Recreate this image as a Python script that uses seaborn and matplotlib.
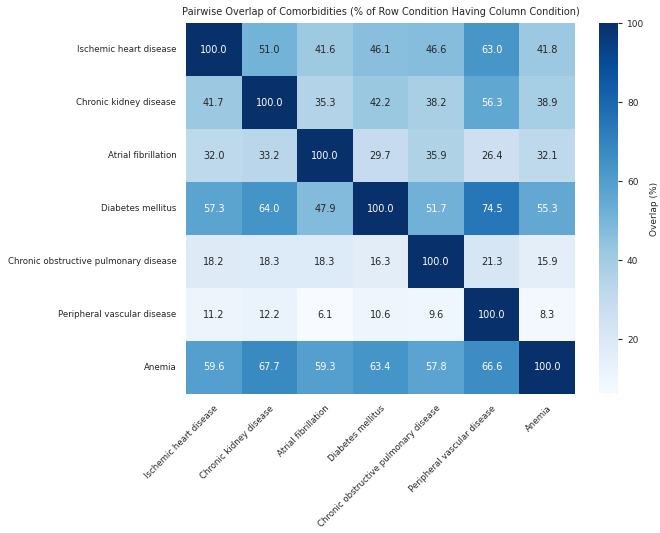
import numpy as np
import pandas as pd
import matplotlib
matplotlib.use('Agg')
import matplotlib.pyplot as plt
import seaborn as sns

conditions = ["Ischemic heart disease", "Chronic kidney disease", "Atrial fibrillation",
              "Diabetes mellitus", "Chronic obstructive pulmonary disease",
              "Peripheral vascular disease", "Anemia"]

ihd = [100.0, 51.0, 41.6, 46.1, 46.6, 63.0, 41.8]
ckd = [41.7, 100.0, 35.3, 42.2, 38.2, 56.3, 38.9]
afib = [32.0, 33.2, 100.0, 29.7, 35.9, 26.4, 32.1]
diab = [57.3, 64.0, 47.9, 100.0, 51.7, 74.5, 55.3]
copd = [18.2, 18.3, 18.3, 16.3, 100.0, 21.3, 15.9]
pvd = [11.2, 12.2, 6.1, 10.6, 9.6, 100.0, 8.3]
anemia = [59.6, 67.7, 59.3, 63.4, 57.8, 66.6, 100.0]

df = pd.DataFrame([ihd, ckd, afib, diab, copd, pvd, anemia],
                  index=conditions, columns=conditions)

sns.set_theme(style="white")
plt.rcParams['font.family'] = ['DejaVu Sans']

fig = plt.figure(figsize=(6.6, 5.33), dpi=100)
ax = fig.add_axes([0.2818, 0.2608, 0.5894, 0.696])
cax = fig.add_axes([0.9076, 0.2608, 0.0288, 0.696])

sns.heatmap(df, ax=ax, cbar_ax=cax, cmap="Blues", annot=True, fmt=".1f",
            annot_kws={"size": 7}, cbar_kws={"label": "Overlap (%)"})

ax.tick_params(length=0, labelsize=6.2, pad=7)
ax.set_xticklabels(ax.get_xticklabels(), rotation=45, ha='right', rotation_mode='anchor')
ax.set_yticklabels(ax.get_yticklabels(), rotation=0)
cax.tick_params(labelsize=6.5, length=3, width=0.8, right=True)
cax.yaxis.label.set_size(6.5)

ax.set_title("Pairwise Overlap of Comorbidities (% of Row Condition Having Column Condition)",
             fontsize=7, pad=6)

fig.savefig("out.png", dpi=100)
